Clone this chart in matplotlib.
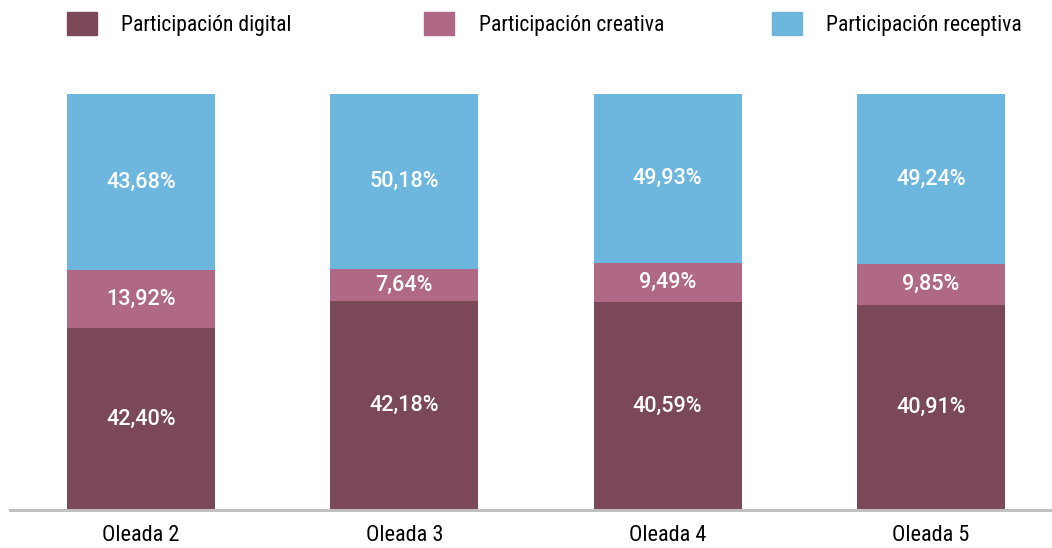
import matplotlib.pyplot as plt
from matplotlib.patches import Rectangle

oleadas = ["Oleada 2", "Oleada 3", "Oleada 4", "Oleada 5"]
series = ["Participación digital", "Participación creativa", "Participación receptiva"]

# values as printed on the segments
digital = [42.40, 42.18, 40.59, 40.91]
creativa = [13.92, 7.64, 9.49, 9.85]
receptiva = [43.68, 50.18, 49.93, 49.24]

colors = ["#7b4858", "#b06985", "#6db6de"]

plt.rcParams['font.family'] = ['Roboto Condensed', 'Liberation Sans Narrow',
                               'Arial Narrow', 'DejaVu Sans']

fig = plt.figure(figsize=(10.52, 5.48), dpi=100)
ax = fig.add_axes([10 / 1052, 1 - 510 / 548, 1042 / 1052, 416 / 548])

x = list(range(len(oleadas)))
w = 0.562

# the source draws the bottom segment with the receptive share and the top
# with the digital share, while the printed labels are the other way round
bottom_h = receptiva
top_h = digital
ax.bar(x, bottom_h, w, color=colors[0], zorder=2)
mid_b = [b + c for b, c in zip(bottom_h, creativa)]
ax.bar(x, creativa, w, bottom=bottom_h, color=colors[1], zorder=2)
ax.bar(x, top_h, w, bottom=mid_b, color=colors[2], zorder=2)

lab = dict(ha="center", va="center", color="white", fontsize=15.6,
           weight="medium", family=['Roboto', 'DejaVu Sans'])
for i in x:
    ax.text(i, bottom_h[i] / 2, f"{digital[i]:.2f}%".replace(".", ","), **lab)
    ax.text(i, bottom_h[i] + creativa[i] / 2, f"{creativa[i]:.2f}%".replace(".", ","), **lab)
    ax.text(i, mid_b[i] + top_h[i] / 2, f"{receptiva[i]:.2f}%".replace(".", ","), **lab)

ax.set_xlim(-0.4975, 3.46)
ax.set_ylim(0, 100)
ax.set_xticks(x)
ax.set_xticklabels(oleadas, fontsize=16)
ax.tick_params(axis="x", length=0, pad=11)
ax.set_yticks([])
for s in ["top", "left", "right"]:
    ax.spines[s].set_visible(False)
ax.spines["bottom"].set_color("#c0c0c0")
ax.spines["bottom"].set_linewidth(2.2)
ax.spines["bottom"].set_zorder(3)

# legend
W, H = 1052, 548
sq_x = [67, 424, 772]
tx_x = [121, 479, 826]
for name, c, sx, tx in zip(series, colors, sq_x, tx_x):
    fig.add_artist(Rectangle((sx / W, 1 - 35 / H), 30 / W, 23 / H,
                             transform=fig.transFigure, color=c))
    fig.text(tx / W, 1 - 25 / H, name, fontsize=15.6, va="center", ha="left")

fig.savefig("out.png", dpi=100)
